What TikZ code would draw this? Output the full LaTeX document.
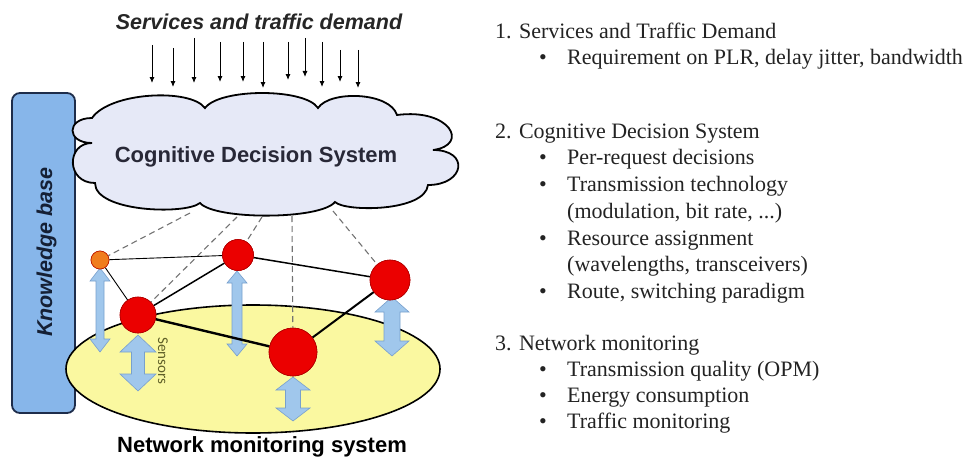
\documentclass[tikz,border=0pt]{standalone}
\usepackage{fontspec}
\setmainfont{Liberation Serif}
\newfontfamily\arialf{Liberation Sans}
\newfontfamily\calibrif{Carlito}
\usetikzlibrary{arrows.meta}
\definecolor{kbfill}{RGB}{135,182,234}
\definecolor{kbdraw}{RGB}{30,45,75}
\definecolor{cloudfill}{RGB}{230,233,247}
\definecolor{ellfill}{RGB}{250,248,160}
\definecolor{arrfill}{RGB}{160,199,236}
\definecolor{arrdraw}{RGB}{120,160,205}
\definecolor{nodered}{RGB}{235,0,0}
\definecolor{nodereddraw}{RGB}{175,0,0}
\definecolor{nodeorange}{RGB}{240,125,30}
\definecolor{sensortext}{RGB}{95,95,40}
\definecolor{cdstext}{RGB}{40,40,55}
\definecolor{listtext}{RGB}{35,35,35}
\newcommand\dblarr[6]{%
  \draw[sensorarrow] (#1,#2) -- (#1+#5,#2+#6) -- (#1+#4,#2+#6) -- (#1+#4,#3-#6) -- (#1+#5,#3-#6) -- (#1,#3) -- (#1-#5,#3-#6) -- (#1-#4,#3-#6) -- (#1-#4,#2+#6) -- (#1-#5,#2+#6) -- cycle;}
\tikzset{
  demand/.style={-{Latex[length=6pt,width=5pt]}, line width=0.9pt, black},
  sensorarrow/.style={fill=arrfill, draw=arrdraw, line width=0.6pt},
  rednode/.style={circle, fill=nodered, draw=nodereddraw, line width=0.6pt, inner sep=0pt},
  cdash/.style={draw=black!55, line width=1.1pt, dash pattern=on 6pt off 4pt},
  numline/.style={anchor=base west, inner sep=0pt, text=listtext, font=\fontsize{22}{26.5}\selectfont},
  itemline/.style={anchor=base west, inner sep=0pt, text=listtext, font=\fontsize{22}{26.5}\selectfont},
  bulletmark/.style={anchor=base, inner sep=0pt, text=listtext, font=\fontsize{22}{26.5}\selectfont},
}
\begin{document}
\begin{tikzpicture}[x=1pt,y=-1pt]
\useasboundingbox (0,0) rectangle (966,460);
% knowledge base
\draw[fill=kbfill, draw=kbdraw, line width=1.8pt, rounded corners=8pt] (12,93) rectangle (75,413);
\node[anchor=base, rotate=90, inner sep=0pt, font=\arialf\bfseries\itshape\fontsize{21.5}{24}\selectfont, text=kbdraw!70!black] (kb) at (52,252) {Knowledge base};
% cloud
\draw[fill=cloudfill, line width=1.8pt]
  (92,118) .. controls (110,92) and (190,88) .. (205,108)
  .. controls (220,88) and (305,88) .. (318,108)
  .. controls (330,90) and (390,92) .. (397,115)
  .. controls (450,108) and (470,145) .. (433,150)
  .. controls (470,150) and (465,185) .. (428,185)
  .. controls (425,212) and (345,212) .. (335,202)
  .. controls (320,220) and (215,220) .. (200,203)
  .. controls (185,215) and (95,212) .. (95,183)
  .. controls (66,183) and (66,143) .. (92,143)
  .. controls (66,143) and (66,118) .. (92,118) -- cycle;
\node[font=\arialf\bfseries\fontsize{22}{26}\selectfont, text=cdstext, anchor=base, inner sep=0pt] (cds) at (256,162) {Cognitive Decision System};
% title and demand arrows
\node[font=\arialf\bfseries\itshape\fontsize{21.5}{24}\selectfont, text=black!85, anchor=base, inner sep=0pt] (title) at (259,30) {Services and traffic demand};
\foreach \i/\x/\ya/\yb in {1/152/45/83, 2/173/48/87, 3/194/38/83, 4/220/42/82, 5/243/42/82, 6/263/42/88, 7/288/42/80, 8/305/38/77, 9/322/42/87, 10/340/50/82, 11/358/50/88}{
  \coordinate (da\i) at (\x,\ya);
  \coordinate (db\i) at (\x,\yb);
  \draw[demand] (da\i) -- (db\i);
}
% ellipse
\draw[fill=ellfill, line width=1.6pt] (253,369) ellipse [x radius=187, y radius=64];
\node[font=\arialf\bfseries\fontsize{22}{26}\selectfont, anchor=base, inner sep=0pt] (nms) at (262,452) {Network monitoring system};
% network nodes (positions)
\coordinate (po) at (100,260);
\coordinate (pa) at (138,315);
\coordinate (pb) at (238,255);
\coordinate (pc) at (390,280);
\coordinate (pd) at (293,352);
% sensor arrows
\dblarr{100}{268}{352}{4}{10}{13}
\dblarr{138}{335}{391}{6.5}{18}{17}
\dblarr{237}{271}{356}{5}{10}{12}
\dblarr{293}{377}{421}{7.5}{17}{13}
\dblarr{392}{297}{356}{8}{17}{15}
\node[anchor=base, rotate=-90, inner sep=0pt, font=\calibrif\fontsize{15}{18}\selectfont, text=sensortext] (sens) at (158,361) {Sensors};
% cloud attachment points
\coordinate (c1) at (190,213);
\coordinate (c2) at (237,217);
\coordinate (c3) at (262,217);
\coordinate (c4) at (292,216);
\coordinate (c5) at (333,211);
% nodes
\node[circle, fill=nodeorange, draw=nodereddraw!80!orange, line width=0.6pt, inner sep=0pt, minimum size=18pt] (no) at (po) {};
\node[rednode, minimum size=36pt] (na) at (pa) {};
\node[rednode, minimum size=31pt] (nb) at (pb) {};
\node[rednode, minimum size=40pt] (nc) at (pc) {};
\node[rednode, minimum size=48pt] (nd) at (pd) {};
% dashed control lines
\draw[cdash] (c1) -- (no);
\draw[cdash] (c2) -- (na);
\draw[cdash] (c3) -- (nb);
\draw[cdash] (c4) -- (nd);
\draw[cdash] (c5) -- (nc);
% links
\draw[line width=0.9pt] (no) -- (nb);
\draw[line width=0.9pt] (no) -- (na);
\draw[line width=1.5pt] (na) -- (nb);
\draw[line width=1.5pt] (nb) -- (nc);
\draw[line width=2.4pt] (na) -- (nd);
\draw[line width=2pt] (nd) -- (nc);
% redraw nodes on top of links
\node[circle, fill=nodeorange, draw=nodereddraw!80!orange, line width=0.6pt, inner sep=0pt, minimum size=18pt] at (po) {};
\node[rednode, minimum size=36pt] at (pa) {};
\node[rednode, minimum size=31pt] at (pb) {};
\node[rednode, minimum size=40pt] at (pc) {};
\node[rednode, minimum size=48pt] at (pd) {};
% right-hand list
\node[numline] (h1) at (495,38) {1. Services and Traffic Demand};
\node[bulletmark] (b11) at (543,65) {•};
\node[itemline] (t11) at (567,65) {Requirement on PLR, delay jitter, bandwidth};
\node[numline] (h2) at (495,138) {2. Cognitive Decision System};
\node[bulletmark] (b21) at (543,164) {•};
\node[itemline] (t21) at (567,164) {Per-request decisions};
\node[bulletmark] (b22) at (543,191) {•};
\node[itemline] (t22) at (567,191) {Transmission technology};
\node[itemline] (t22b) at (567,218) {(modulation, bit rate, ...)};
\node[bulletmark] (b23) at (543,245) {•};
\node[itemline] (t23) at (567,245) {Resource assignment};
\node[itemline] (t23b) at (567,271) {(wavelengths, transceivers)};
\node[bulletmark] (b24) at (543,298) {•};
\node[itemline] (t24) at (567,298) {Route, switching paradigm};
\node[numline] (h3) at (495,350) {3. Network monitoring};
\node[bulletmark] (b31) at (543,376) {•};
\node[itemline] (t31) at (567,376) {Transmission quality (OPM)};
\node[bulletmark] (b32) at (543,402) {•};
\node[itemline] (t32) at (567,402) {Energy consumption};
\node[bulletmark] (b33) at (543,428) {•};
\node[itemline] (t33) at (567,428) {Traffic monitoring};
\end{tikzpicture}
\end{document}
